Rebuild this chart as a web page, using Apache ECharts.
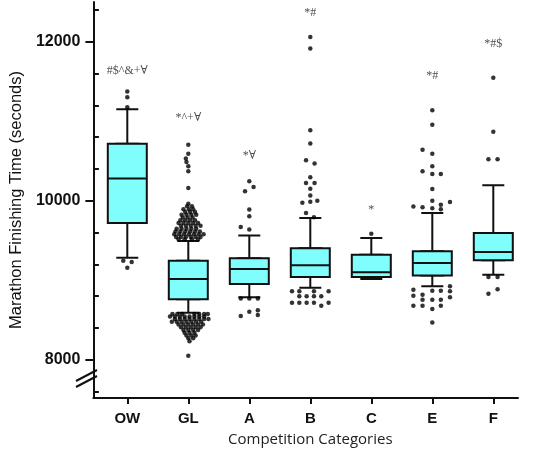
<!DOCTYPE html>
<html><head><meta charset="utf-8">
<script src="https://cdn.jsdelivr.net/npm/echarts@6/dist/echarts.min.js"></script>
<style>html,body{margin:0;padding:0;background:#fff}#c{width:540px;height:460px}</style>
</head><body><div id="c"></div>
<script>
const categories = ['OW', 'GL', 'A', 'B', 'C', 'E', 'F'];
// [lower whisker, Q1, median, Q3, upper whisker] (seconds)
const boxStats = [
  [9283, 9722, 10280, 10716, 11152],
  [8593, 8763, 9017, 9245, 9495],
  [8788, 8954, 9143, 9276, 9562],
  [8908, 9042, 9188, 9402, 9785],
  [9017, 9042, 9100, 9323, 9533],
  [8924, 9059, 9218, 9364, 9848],
  [9071, 9251, 9357, 9596, 10195]
];
// outliers: [horizontal spread within category (fraction of band), time]
const outliersOW = [[0,11374],[0,11303],[0,11175],[-0.066,9247],[0.072,9231],[0,9159]];
const outliersGL = [
  [0,10706],[0,10593],[-0.04,10531],[-0.03,10489],[0,10434],[0,10371],[0,10162],[0,9964],
  [-0.02,9930],[0.06,9930],
  [-0.08,9895],[0.01,9895],[0.08,9895],
  [-0.05,9860],[0.03,9860],[0.11,9860],
  [-0.11,9825],[-0.03,9825],[0.05,9825],[0.13,9825],
  [-0.09,9790],[-0.01,9790],[0.07,9790],
  [-0.13,9755],[-0.05,9755],[0.03,9755],[0.11,9755],
  [-0.16,9720],[-0.08,9720],[0,9720],[0.08,9720],[0.16,9720],
  [-0.12,9685],[-0.04,9685],[0.04,9685],[0.12,9685],[0.2,9685],
  [-0.19,9650],[-0.11,9650],[-0.03,9650],[0.05,9650],[0.13,9650],
  [-0.21,9615],[-0.13,9615],[-0.05,9615],[0.03,9615],[0.11,9615],[0.19,9615],
  [-0.23,9580],[-0.15,9580],[-0.07,9580],[0.01,9580],[0.09,9580],[0.17,9580],[0.25,9580],
  [-0.2,9545],[-0.12,9545],[-0.04,9545],[0.04,9545],[0.12,9545],[0.2,9545],
  [-0.16,9515],[-0.06,9515],[0.06,9515],[0.16,9515],
  [-0.26,8575],[-0.18,8575],[-0.1,8575],[0.1,8575],[0.18,8575],[0.26,8575],[0.32,8575],
  [-0.3,8545],[-0.22,8545],[-0.14,8545],[-0.06,8545],[0.02,8545],[0.1,8545],[0.18,8545],[0.26,8545],
  [-0.22,8512],[-0.14,8512],[-0.06,8512],[0.02,8512],[0.1,8512],[0.18,8512],[0.26,8512],[0.33,8512],
  [-0.27,8478],[-0.19,8478],[-0.11,8478],[-0.03,8478],[0.05,8478],[0.13,8478],[0.21,8478],
  [-0.16,8445],[-0.08,8445],[0,8445],[0.08,8445],[0.16,8445],[0.24,8445],
  [-0.12,8410],[-0.04,8410],[0.04,8410],[0.12,8410],[0.2,8410],
  [-0.08,8375],[0,8375],[0.08,8375],[0.16,8375],
  [-0.06,8340],[0.02,8340],[0.1,8340],
  [-0.03,8305],[0.05,8305],[0.12,8305],
  [0,8270],[0.08,8270],
  [0.02,8235],
  [0,8050]
];
const outliersA = [[0,10246],[-0.07,10120],[0.07,10175],[0,9889],[0,9805],[-0.14,9672],[0,9638],
  [-0.14,8771],[0,8771],[0.14,8771],[-0.14,8550],[0,8605],[0.14,8625],[0.14,8565]];
const outliersB = [[0,12059],[0,11916],[0,10887],[0,10720],[-0.07,10510],[0.07,10468],[0,10296],
  [-0.07,10225],[0.07,10225],[0,10150],[0,10066],[-0.13,9975],[0,9988],[0.115,10000],[-0.07,9848],[0.06,9792],
  [-0.3,8862],[-0.18,8862],[0.06,8862],[0.3,8862],
  [-0.18,8800],[-0.06,8800],[0.06,8800],[0.18,8800],
  [-0.3,8718],[-0.18,8718],[-0.06,8718],[0.06,8718],[0.3,8718],[0.18,8680]];
const outliersC = [[0,9584]];
const outliersE = [[0,11139],[0,10957],[-0.16,10642],[0,10591],[0,10435],[-0.16,10372],[0,10338],[0.14,10338],
  [0,10149],[0,10000],[0.14,9950],[0.29,9984],[-0.31,9928],[-0.16,9920],[0,9907],[0.14,9895],
  [-0.31,8882],[0.29,8924],[0.29,8861],[-0.31,8807],[-0.16,8820],[0,8870],[0.14,8870],
  [-0.16,8757],[0,8757],[0.14,8757],[0.29,8786],[-0.31,8681],[-0.16,8681],[0.14,8681],[0,8640],[0,8471]];
const outliersF = [[0,11547],[0,10868],[-0.08,10523],[0.07,10523],[-0.08,9042],[0.07,9042],[-0.08,8830],[0.07,8889]];
const outlierGroups = [outliersOW, outliersGL, outliersA, outliersB, outliersC, outliersE, outliersF];
const significance = ['#$^&+\u2200', '*^+\u2200', '*\u2200', '*#', '*', '*#', '*#$'];
const significanceY = [11639, 11038, 10560, 12365, 9889, 11567, 11975];
const yMajorTicks = [8000, 10000, 12000];
const yMinorTicks = [7600, 8400, 8800, 9200, 9600, 10400, 10800, 11200, 11600, 12400];
const yMin = 7520, yMax = 12500;

const whiskerData = boxStats.map(s => s.slice());
const boxData = boxStats.map(s => [s[1], s[1], s[2], s[3], s[3]]);
const scatterData = [];
outlierGroups.forEach((g, i) => g.forEach(p => scatterData.push([i + p[0], p[1]])));
const annData = significance.map((t, i) => ({ value: [i, significanceY[i]], label: { formatter: t } }));

const chart = echarts.init(document.getElementById('c'));
const FG = { left: 96.8, right: 16.2, top: 2, bottom: 62 };
const BG = { left: 86, right: 22, top: 2, bottom: 62 };
chart.setOption({
  animation: false,
  backgroundColor: '#fff',
  grid: [FG, BG],
  xAxis: [
    { type: 'category', gridIndex: 0, data: categories, boundaryGap: true,
      axisLine: { show: false },
      axisTick: { show: true, alignWithLabel: true, length: 6, lineStyle: { color: '#111', width: 2 } },
      axisLabel: { margin: 13, color: '#111', fontFamily: 'Liberation Sans', fontWeight: 'bold', fontSize: 15 },
      splitLine: { show: false },
      name: 'Competition Categories', nameLocation: 'middle', nameGap: 34,
      nameTextStyle: { fontFamily: 'Open Sans', fontSize: 15, color: '#222' } },
    { type: 'category', gridIndex: 0, data: categories, show: false },
    { type: 'value', gridIndex: 0, min: -0.5, max: 6.5, show: false },
    { type: 'value', gridIndex: 1, min: 0, max: 1,
      axisLine: { show: true, onZero: false, lineStyle: { color: '#111', width: 2 } },
      axisTick: { show: false }, axisLabel: { show: false }, splitLine: { show: false } }
  ],
  yAxis: [
    { type: 'value', gridIndex: 0, min: yMin, max: yMax, show: false },
    { type: 'value', gridIndex: 1, min: yMin, max: yMax,
      axisLine: { show: true, onZero: false, lineStyle: { color: '#111', width: 2 } },
      axisTick: { show: true, length: 8, customValues: yMajorTicks, lineStyle: { color: '#111', width: 2 } },
      axisLabel: { customValues: yMajorTicks, formatter: v => String(v), margin: 13, color: '#111', fontFamily: 'Liberation Sans', fontWeight: 'bold', fontSize: 16 },
      splitLine: { show: false },
      name: 'Marathon Finishing Time (seconds)', nameLocation: 'middle', nameGap: 64, nameRotate: 90,
      nameTextStyle: { fontFamily: 'Liberation Sans', fontSize: 16.5, color: '#111' } },
    { type: 'value', gridIndex: 1, min: yMin, max: yMax,
      axisLine: { show: false },
      axisTick: { show: true, length: 5.5, customValues: yMinorTicks, lineStyle: { color: '#111', width: 2 } },
      axisLabel: { show: false }, splitLine: { show: false } }
  ],
  series: [
    { type: 'boxplot', xAxisIndex: 1, yAxisIndex: 0, data: whiskerData, boxWidth: [22, 22],
      itemStyle: { color: 'transparent', borderColor: '#111', borderWidth: 2 },
      emphasis: { disabled: true }, z: 2 },
    { type: 'boxplot', xAxisIndex: 0, yAxisIndex: 0, data: boxData, boxWidth: [39, 39],
      itemStyle: { color: '#80fdfd', borderColor: '#111', borderWidth: 2 },
      emphasis: { disabled: true }, z: 3 },
    { type: 'scatter', xAxisIndex: 2, yAxisIndex: 0, data: scatterData, symbolSize: 4.5,
      itemStyle: { color: '#000' }, emphasis: { disabled: true }, z: 4 },
    { type: 'scatter', xAxisIndex: 2, yAxisIndex: 0, data: annData, symbolSize: 1,
      itemStyle: { color: 'transparent' }, silent: true, z: 5,
      label: { show: true, position: 'inside', color: '#222', fontFamily: 'Liberation Serif, DejaVu Serif', fontSize: 12 } }
  ],
  graphic: [
    { type: 'rect', shape: { x: 84, y: 376.8, width: 4, height: 4 }, style: { fill: '#fff' }, z: 100 },
    { type: 'line', shape: { x1: 76, y1: 381, x2: 97, y2: 370 }, style: { stroke: '#111', lineWidth: 2 }, z: 101 },
    { type: 'line', shape: { x1: 76, y1: 387, x2: 97, y2: 376 }, style: { stroke: '#111', lineWidth: 2 }, z: 101 }
  ]
});
</script></body></html>
